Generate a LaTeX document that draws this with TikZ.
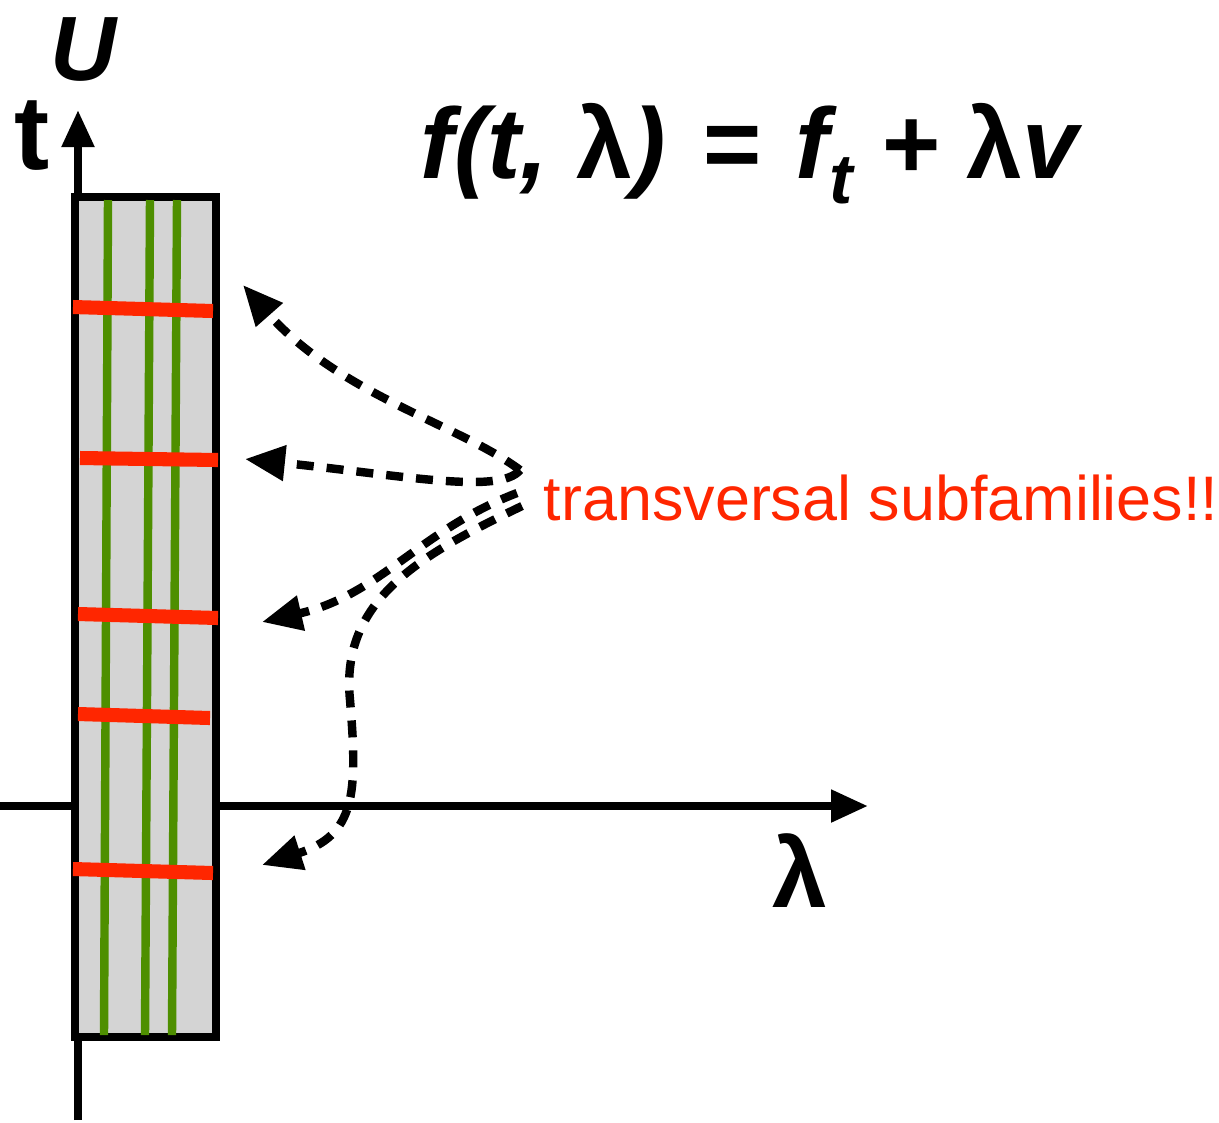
\documentclass[tikz,border=0pt]{standalone}
\usepackage{fontspec}
\setmainfont{Liberation Sans}
\usepackage{xcolor}
\usetikzlibrary{arrows.meta, positioning}
\definecolor{famred}{RGB}{255,38,0}
\definecolor{famgreen}{RGB}{78,143,0}
\definecolor{boxgray}{RGB}{212,212,212}

\begin{document}
\begin{tikzpicture}[
        axis/.style={line width=2.3pt, -{Triangle[length=0.37cm, width=0.31cm]}},
        redline/.style={line width=4pt, draw=famred},
        greenline/.style={line width=2.4pt, draw=famgreen},
        dasharrow/.style={line width=2.4pt, dash pattern=on 0.17cm off 0.13cm, -{Triangle[length=0.40cm, width=0.34cm]}}
      ]
\useasboundingbox (0,0) rectangle (12.19,-11.22);

% axes
\coordinate (torigin) at (0.78,-11.20);
\coordinate (ttip) at (0.78,-1.10);
\coordinate (lorigin) at (0,-8.06);
\coordinate (ltip) at (8.68,-8.06);
\draw[axis] (torigin) -- (ttip);
\draw[axis] (lorigin) -- (ltip);

% parameter strip
\node[rectangle, draw=black, line width=2.4pt, fill=boxgray, minimum width=1.41cm, minimum height=8.40cm, inner sep=0pt] (strip) at (1.455,-6.17) {};

\foreach \xa/\xb in {1.08/1.04, 1.50/1.45, 1.77/1.72}
  \draw[greenline] (\xa,-2.00) -- (\xb,-10.35);

\foreach \xa/\ya/\xb/\yb in {0.73/3.07/2.13/3.11, 0.80/4.58/2.18/4.60, 0.78/6.14/2.18/6.18, 0.78/7.14/2.10/7.18, 0.73/8.69/2.13/8.73}
  \draw[redline] (\xa,-\ya) -- (\xb,-\yb);

% labels
\node[anchor=base west, inner sep=0pt, font=\fontsize{26}{30}\selectfont\bfseries\itshape] (ulabel) at (0.50,-0.80) {U};
\node[anchor=base west, inner sep=0pt, font=\fontsize{30}{34}\selectfont\bfseries] (tlabel) at (0.14,-1.69) {t};
\node[anchor=base west, inner sep=0pt, font=\fontsize{28}{32}\selectfont\bfseries] (lamlabel) at (7.72,-9.07) {λ};
\node[anchor=base west, inner sep=0pt, font=\fontsize{28.5}{34}\selectfont\bfseries\itshape] (formula) at (4.20,-1.78)
  {f(t, {\upshape λ})\hspace{0.08em} = \hspace{0.08em}f\raisebox{-0.25em}{\fontsize{20}{24}\selectfont t} + {\upshape λ}v};
\node[anchor=base west, inner sep=0pt, text=famred, font=\fontsize{17.9}{22}\selectfont] (subfam) at (5.43,-5.20) {transversal subfamilies!!};

% arrows to the subfamilies
\coordinate (src) at (5.20,-4.70);
\coordinate (srclow) at (5.17,-4.93);
\coordinate (srcbot) at (5.22,-5.06);
\coordinate (fam1) at (2.43,-2.85);
\coordinate (fam2) at (2.45,-4.59);
\coordinate (fam3) at (2.62,-6.22);
\coordinate (fam4) at (2.62,-8.65);

\draw[dasharrow] (src) .. controls (4.6,-4.25) and (3.4,-3.95) .. (fam1);
\draw[dasharrow] (src) .. controls (5.0,-4.95) and (4.0,-4.75) .. (fam2);
\draw[dasharrow] (srclow) .. controls (4.2,-5.30) and (3.8,-5.95) .. (fam3);
\draw[dasharrow] (srcbot) .. controls (4.2,-5.55) and (3.4,-6.0) .. (3.50,-7.00)
  .. controls (3.58,-7.95) and (3.55,-8.35) .. (fam4);

\end{tikzpicture}
\end{document}
